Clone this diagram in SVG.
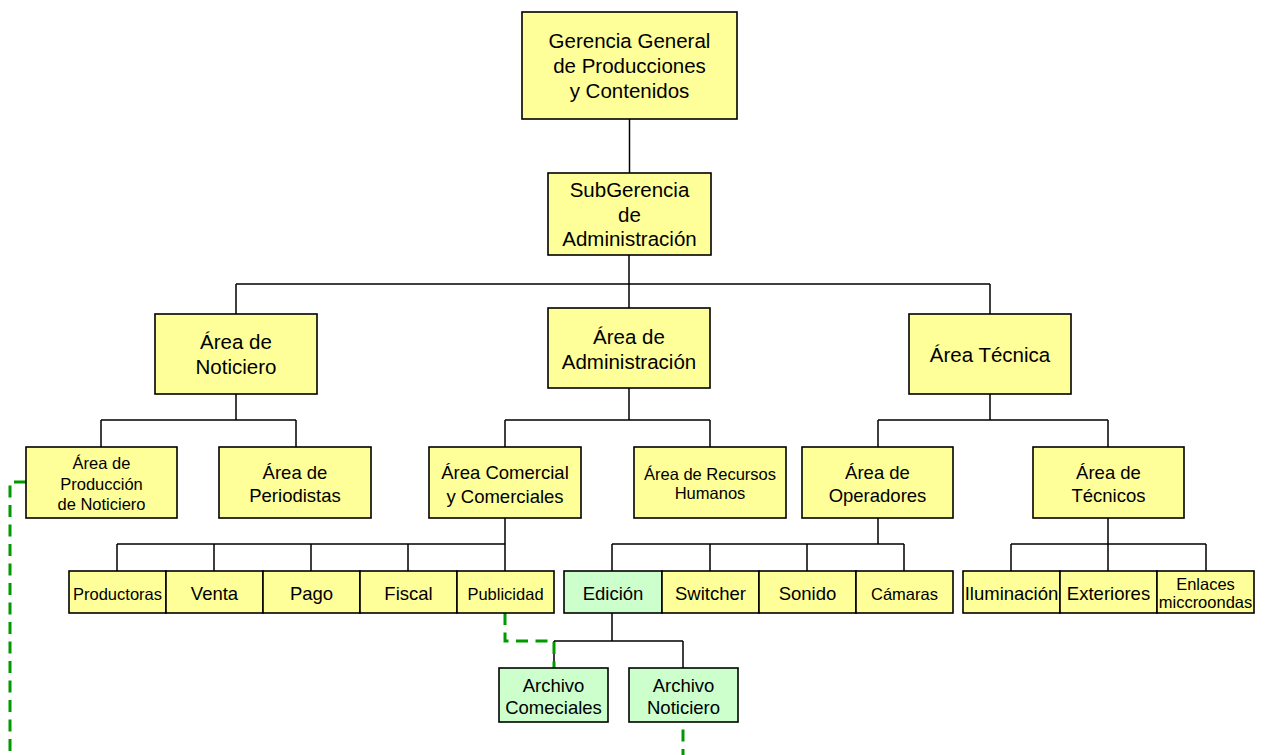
<svg xmlns="http://www.w3.org/2000/svg" width="1268" height="755" viewBox="0 0 1268 755">
<style>
rect{stroke:#000;stroke-width:1.6}
.y{fill:#FFFF99}
.g{fill:#CCFFCC}
text{font-family:"Liberation Sans",Arial,sans-serif;fill:#000;text-anchor:middle}
.L{font-size:20.5px}
.M{font-size:18.5px}
.S{font-size:16.5px}
.c{fill:none;stroke:#000;stroke-width:1.5}
.d{fill:none;stroke:#009900;stroke-width:3;stroke-dasharray:12 7.5}
</style>
<rect x="0" y="0" width="1268" height="755" style="fill:#fff;stroke:none"/>
<g id="connectors">
<path class="c" d="M629.5,119V173M629,255V284M236,284H990M236,284V314M629,284V308M990,284V314"/>
<path class="c" d="M236,394V420M101,420H296M101,420V447M296,420V447"/>
<path class="c" d="M629,388V420M505,420H710M505,420V447M710,420V447"/>
<path class="c" d="M990,394V420M878,420H1108M878,420V447M1108,420V447"/>
<path class="c" d="M505,518V544M117,544H505M117,544V571M214,544V571M311,544V571M408,544V571M505,544V571"/>
<path class="c" d="M878,518V544M612,544H904M612,544V571M710,544V571M807,544V571M904,544V571"/>
<path class="c" d="M1108,518V544M1011,544H1206M1011,544V571M1108,544V571M1206,544V571"/>
<path class="c" d="M612,613V641M554,641H683M554,641V668M683,641V668"/>
<path class="d" d="M505,613V641H554V668"/>
<path class="d" d="M26,482H10V755"/>
<path class="d" style="stroke-dashoffset:12" d="M683,722V755"/>
</g>
<g id="n-gerencia"><rect class="y" x="522" y="12" width="215" height="107"/><text class="L" x="629.5" y="48">Gerencia General</text><text class="L" x="629.5" y="73">de Producciones</text><text class="L" x="629.5" y="98">y Contenidos</text></g>
<g id="n-subgerencia"><rect class="y" x="548" y="173" width="163" height="82"/><text class="L" x="629.5" y="197">SubGerencia</text><text class="L" x="629.5" y="222">de</text><text class="L" x="629.5" y="246">Administración</text></g>
<g id="n-noticiero"><rect class="y" x="155" y="314" width="162" height="80"/><text class="L" x="236" y="349">Área de</text><text class="L" x="236" y="374">Noticiero</text></g>
<g id="n-administracion"><rect class="y" x="548" y="308" width="162" height="80"/><text class="L" x="629" y="344">Área de</text><text class="L" x="629" y="369">Administración</text></g>
<g id="n-tecnica"><rect class="y" x="909" y="314" width="162" height="80"/><text class="L" x="990" y="362">Área Técnica</text></g>
<g id="n-produccion"><rect class="y" x="26" y="447" width="151" height="71"/><text class="S" x="101.5" y="469">Área de</text><text class="S" x="101.5" y="490">Producción</text><text class="S" x="101.5" y="510">de Noticiero</text></g>
<g id="n-periodistas"><rect class="y" x="219" y="447" width="152" height="71"/><text class="M" x="295" y="479">Área de</text><text class="M" x="295" y="502">Periodistas</text></g>
<g id="n-comercial"><rect class="y" x="429" y="447" width="152" height="71"/><text class="M" x="505" y="479">Área Comercial</text><text class="M" x="505" y="503">y Comerciales</text></g>
<g id="n-rrhh"><rect class="y" x="634" y="447" width="152" height="71"/><text class="S" x="710" y="480">Área de Recursos</text><text class="S" x="710" y="499">Humanos</text></g>
<g id="n-operadores"><rect class="y" x="802" y="447" width="151" height="71"/><text class="M" x="877.5" y="479">Área de</text><text class="M" x="877.5" y="502">Operadores</text></g>
<g id="n-tecnicos"><rect class="y" x="1033" y="447" width="151" height="71"/><text class="M" x="1108.5" y="479">Área de</text><text class="M" x="1108.5" y="502">Técnicos</text></g>
<g id="n-productoras"><rect class="y" x="69" y="571" width="97" height="42"/><text class="S" x="117.5" y="600">Productoras</text></g>
<g id="n-venta"><rect class="y" x="166" y="571" width="97" height="42"/><text class="M" x="214.5" y="600">Venta</text></g>
<g id="n-pago"><rect class="y" x="263" y="571" width="97" height="42"/><text class="M" x="311.5" y="600">Pago</text></g>
<g id="n-fiscal"><rect class="y" x="360" y="571" width="97" height="42"/><text class="M" x="408.5" y="600">Fiscal</text></g>
<g id="n-publicidad"><rect class="y" x="457" y="571" width="97" height="42"/><text class="S" x="505.5" y="600">Publicidad</text></g>
<g id="n-edicion"><rect class="g" x="564" y="571" width="98" height="42"/><text class="M" x="613" y="600">Edición</text></g>
<g id="n-switcher"><rect class="y" x="662" y="571" width="97" height="42"/><text class="M" x="710.5" y="600">Switcher</text></g>
<g id="n-sonido"><rect class="y" x="759" y="571" width="97" height="42"/><text class="M" x="807.5" y="600">Sonido</text></g>
<g id="n-camaras"><rect class="y" x="856" y="571" width="97" height="42"/><text class="S" x="904.5" y="600">Cámaras</text></g>
<g id="n-iluminacion"><rect class="y" x="963" y="571" width="97" height="42"/><text class="M" x="1011.5" y="600">Iluminación</text></g>
<g id="n-exteriores"><rect class="y" x="1060" y="571" width="97" height="42"/><text class="M" x="1108.5" y="600">Exteriores</text></g>
<g id="n-enlaces"><rect class="y" x="1157" y="571" width="97" height="42"/><text class="S" x="1205.5" y="590">Enlaces</text><text class="S" x="1205.5" y="608">miccroondas</text></g>
<g id="n-archivo-comeciales"><rect class="g" x="499" y="668" width="109" height="54"/><text class="M" x="553.5" y="692">Archivo</text><text class="M" x="553.5" y="714">Comeciales</text></g>
<g id="n-archivo-noticiero"><rect class="g" x="629" y="668" width="109" height="54"/><text class="M" x="683.5" y="692">Archivo</text><text class="M" x="683.5" y="714">Noticiero</text></g>
</svg>
